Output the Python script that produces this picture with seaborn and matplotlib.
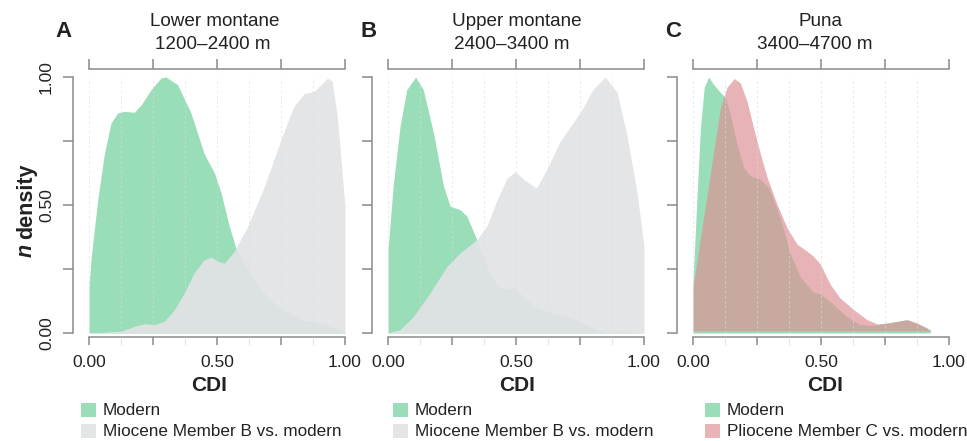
import numpy as np
import pandas as pd
import matplotlib
matplotlib.use("Agg")
import matplotlib.pyplot as plt
import seaborn as sns
from matplotlib.patches import Rectangle

# ---------------- data ----------------
a_modern_x = [0.0, 0.008, 0.034, 0.06, 0.086, 0.112, 0.138, 0.177, 0.203, 0.242, 0.281, 0.30,
              0.346, 0.398, 0.45, 0.49, 0.516, 0.548, 0.574, 0.62, 0.67, 0.72, 0.75, 0.83, 0.88, 0.93, 1.0]
a_modern_y = [0.18, 0.29, 0.52, 0.70, 0.82, 0.86, 0.866, 0.862, 0.89, 0.95, 0.996, 1.0,
              0.97, 0.86, 0.70, 0.625, 0.547, 0.417, 0.332, 0.25, 0.17, 0.12, 0.098, 0.05, 0.045, 0.03, 0.005]

a_mio_x = [0.0, 0.125, 0.177, 0.216, 0.255, 0.294, 0.333, 0.372, 0.41, 0.45, 0.477, 0.503, 0.529,
           0.568, 0.62, 0.685, 0.75, 0.80, 0.84, 0.88, 0.906, 0.932, 0.95, 0.97, 0.99, 1.0]
a_mio_y = [0.0, 0.007, 0.026, 0.036, 0.033, 0.046, 0.09, 0.156, 0.234, 0.286, 0.297, 0.28, 0.273,
           0.32, 0.417, 0.573, 0.755, 0.885, 0.935, 0.944, 0.97, 0.996, 0.983, 0.846, 0.61, 0.495]

b_modern_x = [0.0, 0.02, 0.047, 0.073, 0.108, 0.138, 0.178, 0.217, 0.243, 0.282, 0.308, 0.347,
              0.386, 0.426, 0.452, 0.49, 0.53, 0.569, 0.62, 0.687, 0.75, 0.80, 0.856, 0.91, 0.96, 1.0]
b_modern_y = [0.325, 0.573, 0.807, 0.95, 1.0, 0.95, 0.78, 0.573, 0.495, 0.482, 0.456, 0.365,
              0.26, 0.182, 0.172, 0.176, 0.143, 0.104, 0.085, 0.065, 0.046, 0.02, 0.003, 0.01, 0.003, 0.0]

b_mio_x = [0.0, 0.047, 0.10, 0.164, 0.23, 0.282, 0.347, 0.386, 0.426, 0.465, 0.497, 0.53, 0.58,
           0.62, 0.673, 0.75, 0.80, 0.848, 0.895, 0.934, 0.973, 1.0]
b_mio_y = [0.0, 0.013, 0.065, 0.156, 0.26, 0.313, 0.365, 0.417, 0.52, 0.605, 0.63, 0.60, 0.566,
           0.638, 0.75, 0.86, 0.95, 1.0, 0.94, 0.77, 0.547, 0.34]

c_modern_x = [0.0, 0.016, 0.029, 0.044, 0.061, 0.081, 0.107, 0.126, 0.146, 0.172, 0.198, 0.224,
              0.263, 0.296, 0.341, 0.38, 0.42, 0.47, 0.497, 0.55, 0.60, 0.653, 0.70, 0.784,
              0.836, 0.888, 0.927]
c_modern_y = [0.20, 0.54, 0.80, 0.96, 1.0, 0.97, 0.94, 0.92, 0.853, 0.737, 0.646, 0.614,
              0.60, 0.568, 0.451, 0.309, 0.218, 0.16, 0.153, 0.11, 0.065, 0.032, 0.03, 0.043,
              0.052, 0.03, 0.012]

c_plio_x = [0.0, 0.029, 0.055, 0.081, 0.107, 0.133, 0.161, 0.185, 0.211, 0.237, 0.263, 0.289,
            0.328, 0.367, 0.406, 0.445, 0.47, 0.497, 0.536, 0.575, 0.628, 0.68, 0.72, 0.77,
            0.836, 0.875, 0.914, 0.927]
c_plio_y = [0.18, 0.37, 0.54, 0.71, 0.88, 0.96, 0.994, 0.977, 0.905, 0.80, 0.70, 0.61,
            0.503, 0.412, 0.347, 0.32, 0.30, 0.27, 0.19, 0.136, 0.091, 0.052, 0.035, 0.04,
            0.052, 0.04, 0.02, 0.01]

panel_letters = ["A", "B", "C"]
panel_titles = [("Lower montane", "1200\u20132400 m"),
                ("Upper montane", "2400\u20133400 m"),
                ("Puna", "3400\u20134700 m")]
legend_labels = [("Modern", "Miocene Member B vs. modern"),
                 ("Modern", "Miocene Member B vs. modern"),
                 ("Modern", "Pliocene Member C vs. modern")]
xtick_vals = [0.0, 0.25, 0.5, 0.75, 1.0]
xtick_labels = ["0.00", "", "0.50", "", "1.00"]
ytick_vals = [0.0, 0.25, 0.5, 0.75, 1.0]
ytick_labels = ["0.00", "", "0.50", "", "1.00"]

# ---------------- style ----------------
sns.set_theme(style="white")
plt.rcParams["font.family"] = ["Liberation Sans", "DejaVu Sans"]

GREEN = "#9ADDB9"
GRAY = (226 / 255, 227 / 255, 229 / 255)
GRAY_A = 0.92
RED = (222 / 255, 146 / 255, 149 / 255)
RED_A = 0.69
SPINE = "#8a8a8a"
TXT = "#222222"

W, H = 967, 441
fig = plt.figure(figsize=(W / 100, H / 100), dpi=100)


def fx(px):
    return px / W


def fy(py):
    return 1 - py / H


OFF = 16  # px gap between y-axis and data zero
panel_x0 = [89, 388, 693]
title_cx = [(215, 213), (517, 512), (820, 815)]
cdi_cx = [209, 517, 825]
letter_x = [55, 361, 665]
legend_x = [81, 393, 705]

series = [
    [(a_modern_x, a_modern_y, GREEN, 1.0, 0.0), (a_mio_x, a_mio_y, GRAY, GRAY_A, 0.0)],
    [(b_modern_x, b_modern_y, GREEN, 1.0, 0.0), (b_mio_x, b_mio_y, GRAY, GRAY_A, 0.0)],
    [(c_modern_x, c_modern_y, GREEN, 1.0, 0.0), (c_plio_x, c_plio_y, RED, RED_A, 0.008)],
]
legend_cols = [(GREEN, "#E4E5E7"), (GREEN, "#E4E5E7"), (GREEN, "#E8B4B6")]

for i in range(3):
    x0 = panel_x0[i]
    ax = fig.add_axes([fx(x0 - OFF), fy(333), fx(256 + OFF), 256 / H])
    for sx, sy, col, al, base in series[i]:
        df = pd.DataFrame({"cdi": sx, "density": sy})
        ax.fill_between(df["cdi"], base, df["density"], color=col, alpha=al, lw=0, zorder=1)
    ax.set_xlim(-OFF / 256, 1.0)
    ax.set_ylim(0, 1.0)

    # grid
    ax.set_xticks(xtick_vals)
    ax.set_xticks(np.arange(0.125, 1.0, 0.25), minor=True)
    ax.grid(True, which="both", axis="x", color="#dcdcdc", lw=0.6, ls=(0, (3, 3)), alpha=0.7)
    ax.grid(False, axis="y")
    ax.set_axisbelow(False)

    sns.despine(ax=ax, right=True, top=False)
    for s in ["left", "bottom", "top"]:
        ax.spines[s].set_color(SPINE)
        ax.spines[s].set_linewidth(1.1)
    ax.spines["bottom"].set_position(("outward", 3))
    ax.spines["top"].set_position(("outward", 6))
    ax.spines["bottom"].set_bounds(0, 1)
    ax.spines["top"].set_bounds(0, 1)
    ax.spines["left"].set_bounds(0, 1)

    ax.set_xticklabels(xtick_labels)
    ax.tick_params(axis="x", which="major", bottom=True, top=True, direction="out",
                   length=6, width=1.1, color=SPINE, labelsize=12.5, labelcolor=TXT, pad=6.5)
    for t in ax.xaxis.get_major_ticks():
        t.tick2line.set_markersize(7.2)
    ax.tick_params(axis="x", which="minor", bottom=True, top=False, direction="out",
                   length=6, width=0.8, color="#e6e6e6")

    ax.set_yticks(ytick_vals)
    ax.set_yticklabels(ytick_labels if i == 0 else [""] * 5)
    ax.tick_params(axis="y", which="major", left=True, direction="out", length=7.2,
                   width=1.1, color=SPINE, labelsize=12.5, labelcolor=TXT, pad=6.5)
    plt.setp(ax.get_yticklabels(), rotation=90, va="center")

    # titles
    fig.text(fx(title_cx[i][0]), fy(26), panel_titles[i][0], ha="center", va="baseline",
             fontsize=13.6, color=TXT)
    fig.text(fx(title_cx[i][1]), fy(49), panel_titles[i][1], ha="center", va="baseline",
             fontsize=13.6, color=TXT)
    fig.text(fx(letter_x[i]), fy(37), panel_letters[i], ha="left", va="baseline",
             fontsize=16, fontweight="bold", color=TXT)
    fig.text(fx(cdi_cx[i]), fy(391), "CDI", ha="center", va="baseline",
             fontsize=15, fontweight="bold", color=TXT)

    # legend
    lx = legend_x[i]
    for r, (lab, col) in enumerate(zip(legend_labels[i], legend_cols[i])):
        top = 403 + r * 21
        fig.patches.append(Rectangle((fx(lx), fy(top + 14)), fx(15), 14 / H,
                                     transform=fig.transFigure, color=col, lw=0))
        fig.text(fx(lx + 22), fy(top + 7.5), lab, ha="left", va="center",
                 fontsize=12.3, color=TXT)

# y label: bold italic "n" + bold "density"
YL_X = 32
t_n = fig.text(fx(YL_X), fy(257), "n", rotation=90, rotation_mode="anchor", ha="left",
               va="baseline", fontsize=15.5, fontweight="bold", fontstyle="italic", color=TXT)
fig.canvas.draw()
bb = t_n.get_window_extent()
n_len = bb.height
fig.text(fx(YL_X), fy(257) + (n_len + 5) / H, "density", rotation=90, rotation_mode="anchor",
         ha="left", va="baseline", fontsize=15.5, fontweight="bold", color=TXT)

fig.savefig("out.png", dpi=100)
